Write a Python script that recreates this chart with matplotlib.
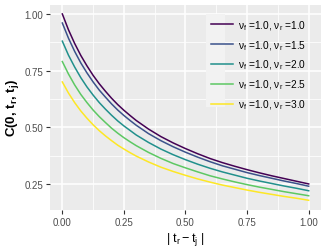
import matplotlib
matplotlib.use('Agg')
import matplotlib.pyplot as plt
from matplotlib.patches import Rectangle
from matplotlib.ticker import MultipleLocator

plt.rcParams['font.family'] = ['Liberation Sans', 'DejaVu Sans']
plt.rcParams['mathtext.fontset'] = 'custom'
plt.rcParams['mathtext.rm'] = 'Liberation Sans'
plt.rcParams['mathtext.it'] = 'Liberation Sans:italic'
plt.rcParams['mathtext.bf'] = 'Liberation Sans:bold'
plt.rcParams['mathtext.default'] = 'regular'

# values
dt = [0, .025, .05, .075, .1, .125, .15, .175, .2, .225, .25, .275, .3, .35,
      .4, .45, .5, .55, .6, .65, .7, .75, .8, .85, .9, .95, 1.0]
c_10 = [1.00, .93, .87, .817, .771, .729, .692, .659, .628, .600, .575, .552, .530, .492,
        .459, .431, .406, .383, .362, .344, .328, .313, .299, .286, .274, .262, .25]
c_15 = [.96, .893, .835, .784, .740, .700, .664, .633, .603, .576, .552, .530, .509, .472,
        .441, .414, .390, .368, .348, .330, .315, .300, .287, .275, .263, .252, .24]
c_20 = [.88, .818, .766, .719, .678, .642, .609, .580, .553, .528, .506, .486, .466, .433,
        .404, .379, .357, .337, .319, .303, .289, .275, .263, .252, .241, .231, .22]
c_25 = [.79, .735, .687, .645, .609, .576, .547, .521, .496, .474, .454, .436, .419, .389,
        .363, .340, .321, .303, .286, .272, .259, .247, .236, .226, .216, .207, .198]
c_30 = [.70, .651, .609, .572, .540, .511, .485, .462, .441, .421, .404, .388, .373, .347,
        .324, .305, .288, .272, .258, .245, .234, .223, .213, .204, .195, .187, .178]

series = [c_10, c_15, c_20, c_25, c_30]
nu_r = ['1.0', '1.5', '2.0', '2.5', '3.0']
colors = ['#440154', '#3B528B', '#21908C', '#5DC863', '#FDE725']

fig = plt.figure(figsize=(3.27, 2.51), dpi=100)
ax = fig.add_axes([50/327, 1 - 211.3/251, 271/327, 205.7/251])
ax.set_facecolor('#EBEBEB')
for s in ax.spines.values():
    s.set_visible(False)

for vals, nr, col in zip(series, nu_r, colors):
    ax.plot(dt, vals, color=col, lw=1.1, label=r'$\nu_f$ =1.0, $\nu_r$ =' + nr)

xmin, xmax = 0, 1.0
ymin, ymax = 0.175, 1.0
ax.set_xlim(xmin - 0.05 * (xmax - xmin), xmax + 0.05 * (xmax - xmin))
ax.set_ylim(ymin - 0.05 * (ymax - ymin), ymax + 0.05 * (ymax - ymin))

ax.xaxis.set_major_locator(MultipleLocator(0.25))
ax.xaxis.set_minor_locator(MultipleLocator(0.125))
ax.yaxis.set_major_locator(MultipleLocator(0.25))
ax.yaxis.set_minor_locator(MultipleLocator(0.125))
ax.xaxis.set_major_formatter(plt.FuncFormatter(lambda v, p: '%.2f' % v))
ax.yaxis.set_major_formatter(plt.FuncFormatter(lambda v, p: '%.2f' % v))

ax.grid(which='major', color='white', lw=1.1)
ax.grid(which='minor', color='white', lw=0.55)
ax.set_axisbelow(True)
ax.tick_params(which='major', length=2.7, width=0.8, color='#333333',
               labelsize=7, labelcolor='#4D4D4D', pad=2)
ax.tick_params(which='minor', length=0)

ax.set_xlabel(r'| $t_r-t_j$ |', fontsize=9, labelpad=2)
ax.set_ylabel(r'C($\mathbf{0}$, $t_r$, $t_j$)', fontsize=9.5,
              fontweight='bold', labelpad=3)

# light key background like ggplot legend keys
ax.add_patch(Rectangle((206/327, 1 - 108/251), 19/327, 93/251,
                       transform=fig.transFigure, facecolor='#F2F2F2',
                       edgecolor='none', zorder=1.5))
leg = ax.legend(loc='upper left', bbox_to_anchor=(204/327, 1 - 12/251),
                bbox_transform=fig.transFigure, frameon=False, fontsize=7.3,
                handlelength=2.2, handletextpad=0.5, labelspacing=0.62,
                borderpad=0.2)

fig.savefig('out.png', dpi=100)
